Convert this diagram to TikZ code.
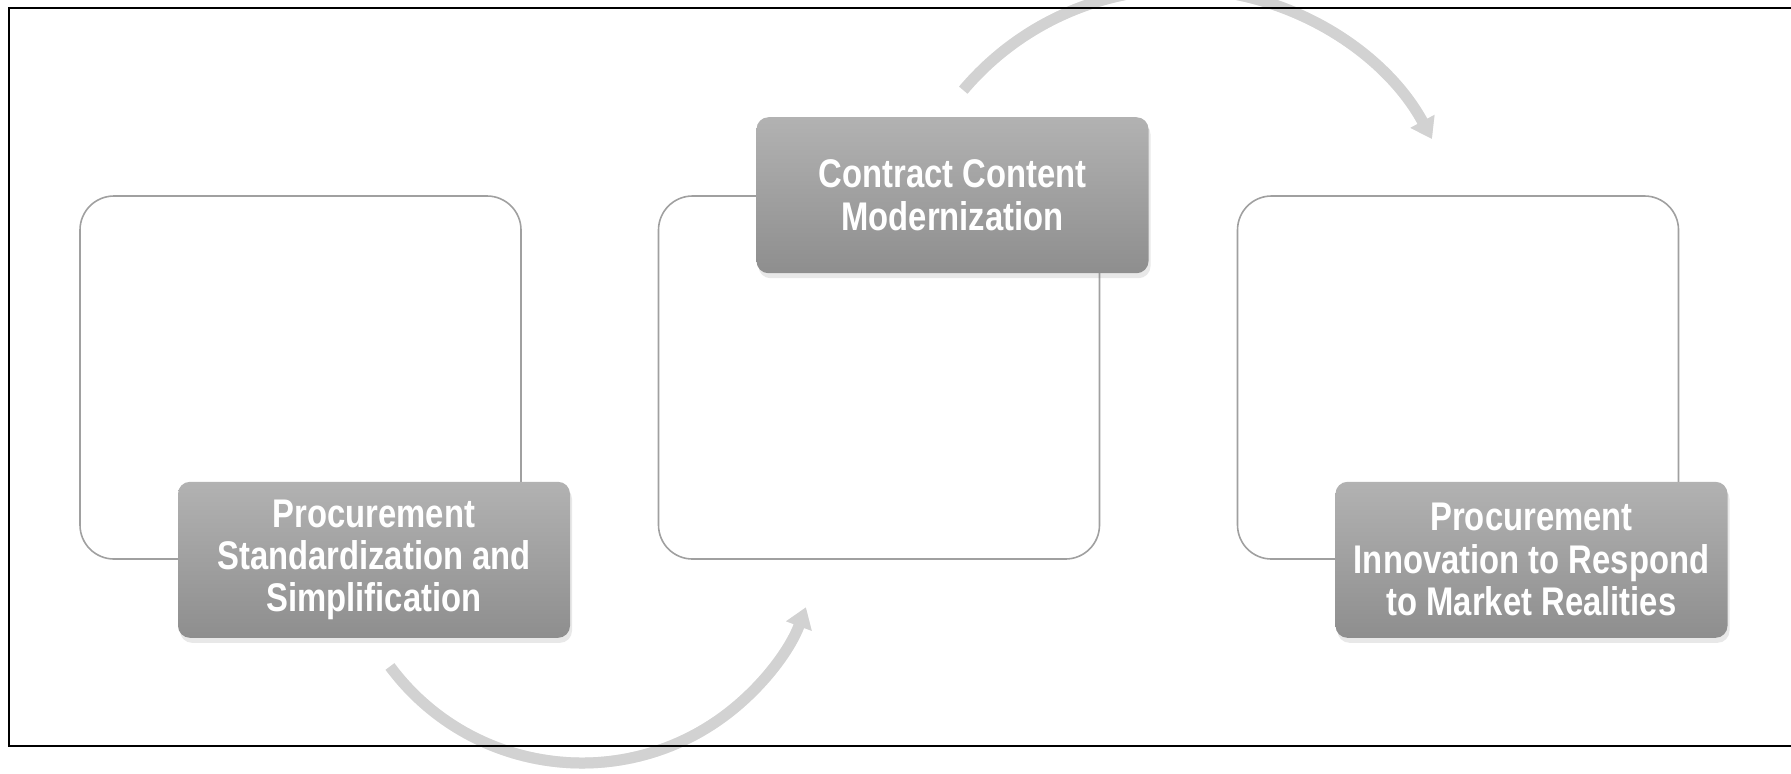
\documentclass[tikz,border=0pt]{standalone}
\usepackage{fontspec}
\usepackage{tikz}
\usetikzlibrary{arrows.meta,shadows}
\newfontfamily\boxfont[FakeStretch=0.82]{Liberation Sans}
\definecolor{boxtop}{HTML}{B2B2B2}
\definecolor{boxbottom}{HTML}{8E8E8E}
\definecolor{framegray}{HTML}{A0A0A0}
\definecolor{arrowgray}{HTML}{D2D2D2}
\tikzset{
  outline/.style={draw=framegray, line width=0.8pt, rounded corners=17pt, minimum width=220.5pt, minimum height=181.5pt},
  stepbox/.style={rounded corners=6pt, top color=boxtop, bottom color=boxbottom, minimum width=196pt, minimum height=78pt,
    text=white, align=center, font=\boxfont\bfseries\fontsize{20}{21.2}\selectfont,
    drop shadow={opacity=0.18, shadow xshift=1pt, shadow yshift=-2.5pt}},
  cyclearrow/.style={draw=arrowgray, line width=5.5pt, -{Triangle[width=13pt,length=10pt]}},
}

\begin{document}
\begin{tikzpicture}[x=0.5pt,y=0.5pt]
                \useasboundingbox (0,0) rectangle (1791,-773);
                % empty frames
                \node [outline] (frameA) at (300.5,-377.5) {};
                \node [outline] (frameB) at (879,-377.5) {};
                \node [outline] (frameC) at (1458,-377.5) {};
                % the three steps
                \node [stepbox] (stepA) at ([xshift=36.75pt]frameA.south) {Procurement\\Standardization and\\Simplification};
                \node [stepbox] (stepB) at ([xshift=36.75pt]frameB.north) {Contract Content\\Modernization};
                \node [stepbox] (stepC) at ([xshift=36.75pt]frameC.south) {Procurement\\Innovation to Respond\\to Market Realities};
                % curved arrows
                \coordinate (tailA) at (390,-666.5);
                \coordinate (tailB) at (963.3,-90.1);
                \draw [cyclearrow, draw=black, opacity=0.08, shift={(1.5pt,-2.5pt)}] (tailA) arc [start angle=216.6, end angle=339.6, radius=239];
                \draw [cyclearrow] (tailA) arc [start angle=216.6, end angle=339.6, radius=239];
                \draw [cyclearrow, draw=black, opacity=0.08, shift={(1.5pt,-2.5pt)}] (tailB) arc [start angle=139.8, end angle=28.3, radius=285];
                \draw [cyclearrow] (tailB) arc [start angle=139.8, end angle=28.3, radius=285];
                % outer border
                \draw [line width=1pt] (9,-8) rectangle (1800,-746);
            \end{tikzpicture}
\end{document}
